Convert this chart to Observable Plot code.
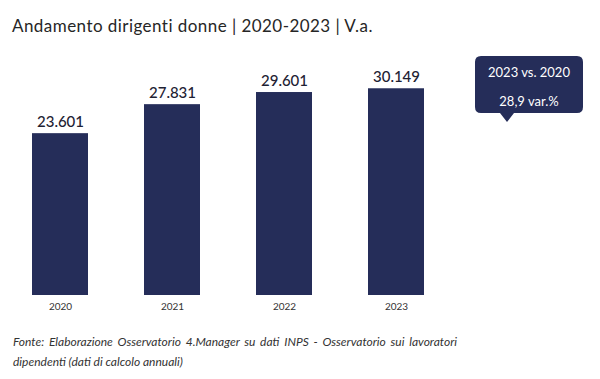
<!DOCTYPE html>
<html>
<head>
<meta charset="utf-8">
<script src="https://cdn.jsdelivr.net/npm/d3@7"></script>
<script src="https://cdn.jsdelivr.net/npm/@observablehq/plot@0.6"></script>
<style>
  html, body { margin: 0; padding: 0; background: #fff; }
  body { width: 600px; height: 379px; position: relative; overflow: hidden; font-family: Lato, "Noto Sans", sans-serif; }
  #title { box-sizing: border-box; height: 45px; padding: 14px 0 0 12px; font-size: 17px; letter-spacing: 0.45px; line-height: 24px; color: #262626; font-weight: 400; }
  #chart { height: 275px; }
  #caption { position: absolute; left: 13px; top: 332px; width: 444px; font-size: 12px; line-height: 20px; font-style: italic; color: #333; text-align: justify; text-align-last: left; }
  #callout { position: absolute; left: 474px; top: 55px; }
  #callout .t { position: absolute; left: 0; width: 110px; text-align: center; color: #fff; font-size: 13px; }
</style>
</head>
<body>
<div id="title">Andamento dirigenti donne | 2020-2023 | V.a.</div>
<div id="chart"></div>
<div id="callout">
  <svg width="112" height="70" style="position:absolute;left:0;top:0">
    <path d="M7,1 H103 Q109,1 109,7 V52 Q109,58 103,58 H40 L33,67 L26,58 H7 Q1,58 1,52 V7 Q1,1 7,1 Z" fill="#252d59"/>
  </svg>
  <div class="t" style="top:9px">2023 vs. 2020</div>
  <div class="t" style="top:38px">28,9 var.%</div>
</div>
<div id="caption">Fonte: Elaborazione Osservatorio 4.Manager su dati INPS - Osservatorio sui lavoratori dipendenti (dati di calcolo annuali)</div>
<script>
const years = ["2020", "2021", "2022", "2023"];
const values = [23601, 27831, 29601, 30149];
const valueLabels = ["23.601", "27.831", "29.601", "30.149"];

const data = years.map((y, i) => ({ year: y, value: values[i], label: valueLabels[i] }));

const chart = Plot.plot({
  width: 600,
  height: 275,
  marginLeft: 3,
  marginRight: 148,
  marginTop: 10,
  marginBottom: 25,
  style: { fontFamily: "Lato, 'Noto Sans', sans-serif", background: "transparent", overflow: "visible" },
  x: { domain: years, paddingInner: 0.5, paddingOuter: 0.25, label: null },
  y: { domain: [0, 35000], axis: null },
  marks: [
    Plot.barY(data, { x: "year", y: "value", fill: "#252d59" }),
    Plot.text(data, { x: "year", y: "value", text: "label", dy: -7, lineAnchor: "bottom", fontSize: 15, fontWeight: 500, fill: "#1e2233" }),
    Plot.axisX({ tickSize: 0, tickPadding: 7, fontSize: 10, color: "#333", label: null })
  ]
});
document.getElementById("chart").appendChild(chart);
</script>
</body>
</html>
